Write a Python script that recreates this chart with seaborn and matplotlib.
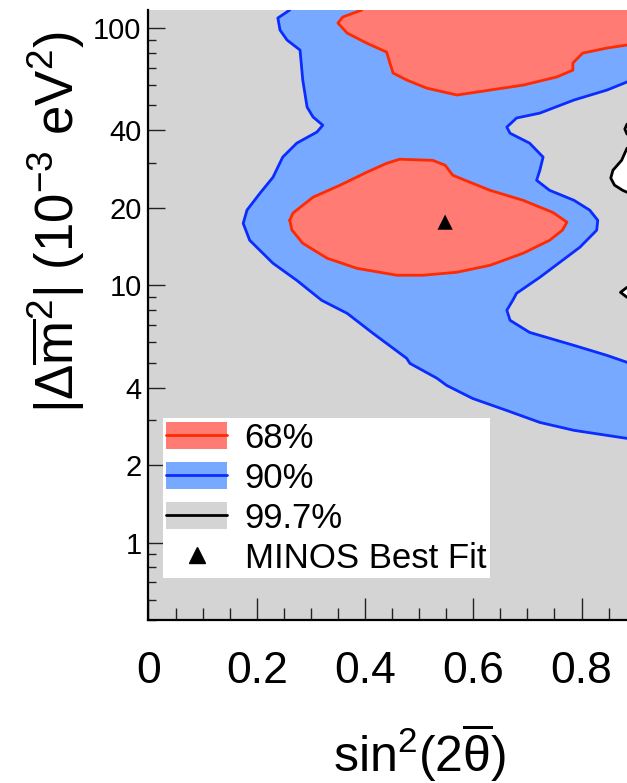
import matplotlib
matplotlib.use("Agg")
import matplotlib.pyplot as plt
import matplotlib.ticker as mticker
from matplotlib.lines import Line2D
from matplotlib.patches import Patch
import seaborn as sns

# 90% C.L. contour, outer edge (from the top of the plot down to the right edge)
blue_outer_s2 = [0.261, 0.239, 0.243, 0.256, 0.280, 0.285, 0.293, 0.304, 0.322, 0.311,
                 0.274, 0.248, 0.230, 0.206, 0.182, 0.175, 0.187, 0.230, 0.274, 0.320,
                 0.367, 0.415, 0.477, 0.483, 0.533, 0.551, 0.599, 0.662, 0.723, 0.786, 0.884]
blue_outer_dm2 = [117.5, 109.4, 98.2, 89.8, 82.1, 62.8, 49.3, 45.1, 41.9, 39.4,
                  35.7, 31.5, 26.3, 22.8, 19.6, 17.4, 14.96, 12.18, 10.45, 8.74,
                  7.78, 6.50, 5.20, 4.97, 4.35, 4.08, 3.63, 3.26, 2.93, 2.73, 2.54]

# 90% C.L. contour, inner edge (from the lower right edge up to the upper right edge)
blue_inner_s2 = [0.884, 0.847, 0.786, 0.704, 0.668, 0.662, 0.673, 0.680, 0.723, 0.797,
                 0.828, 0.830, 0.815, 0.786, 0.741, 0.717, 0.723, 0.729, 0.704, 0.668,
                 0.662, 0.680, 0.723, 0.786, 0.847, 0.884]
blue_inner_dm2 = [5.02, 5.34, 5.84, 6.56, 7.31, 8.00, 8.74, 9.31, 10.74, 14.06,
                  16.37, 17.9, 19.6, 21.4, 23.4, 25.6, 28.0, 31.5, 35.7, 39.0,
                  41.2, 44.7, 46.7, 52.5, 57.4, 61.7]

# 68% C.L. island around the best fit (closed)
red_low_s2 = [0.261, 0.267, 0.304, 0.354, 0.403, 0.440, 0.464, 0.525, 0.548, 0.562,
              0.575, 0.631, 0.692, 0.747, 0.773, 0.765, 0.741, 0.692, 0.631, 0.570,
              0.507, 0.459, 0.385, 0.330, 0.285, 0.265, 0.261]
red_low_dm2 = [17.9, 19.1, 22.0, 24.5, 27.5, 29.8, 30.9, 30.6, 29.3, 26.8,
               26.1, 23.4, 21.4, 19.2, 17.6, 16.4, 14.96, 13.32, 11.96, 11.24,
               10.94, 10.94, 11.64, 12.74, 14.57, 16.4, 17.9]

# 68% C.L. region at high mass splitting (top edge to right edge)
red_up_s2 = [0.394, 0.359, 0.350, 0.367, 0.403, 0.440, 0.446, 0.452, 0.477, 0.514,
             0.570, 0.631, 0.692, 0.754, 0.784, 0.784, 0.802, 0.847, 0.884]
red_up_dm2 = [117.5, 110.4, 104.6, 95.6, 87.4, 80.6, 73.1, 66.8, 62.8, 58.4,
              54.9, 57.4, 60.0, 64.5, 68.6, 73.1, 79.9, 83.6, 85.9]

# 99.7% C.L. contour pieces at the right edge (excluded region inside)
black_a_s2 = [0.884, 0.880, 0.884]
black_a_dm2 = [42.3, 40.5, 38.7]
black_b_s2 = [0.884, 0.874, 0.858, 0.854, 0.861, 0.876, 0.884]
black_b_dm2 = [34.1, 30.6, 28.0, 26.1, 24.5, 23.4, 23.0]
black_c_s2 = [0.884, 0.872, 0.884]
black_c_dm2 = [9.82, 9.39, 8.98]

best_fit_s2 = [0.548]
best_fit_dm2 = [17.6]

legend_labels = ["68%", "90%", "99.7%", "MINOS Best Fit"]
y_tick_values = [1, 2, 4, 10, 20, 40, 100]

red_fill, red_line = "#ff7b74", "#ff2a00"
blue_fill, blue_line = "#76a9ff", "#0a2cff"
gray_fill = "#d4d4d4"

xmin, xmax = 0.0, 0.884
ymin, ymax = 0.5, 117.5
xpad, ypad = 1.0, 300.0   # points outside the frame used to close edge regions

sns.set_style("ticks")
plt.rcParams["font.family"] = ["Liberation Sans", "DejaVu Sans"]
plt.rcParams["mathtext.fontset"] = "custom"
plt.rcParams["mathtext.rm"] = "Liberation Sans"
plt.rcParams["mathtext.it"] = "Liberation Sans"
plt.rcParams["mathtext.bf"] = "Liberation Sans:bold"
plt.rcParams["text.color"] = "black"
plt.rcParams["axes.labelcolor"] = "black"

fig = plt.figure(figsize=(6.27, 7.83), dpi=100)
ax = fig.add_axes([0.2368, 0.2082, 0.7632, 0.779])
ax.set_facecolor(gray_fill)
ax.set_yscale("log")
ax.set_xlim(xmin, xmax)
ax.set_ylim(ymin, ymax)

# excluded (white) pockets inside the 99.7% lines
for xs, ys in [(black_a_s2, black_a_dm2), (black_b_s2, black_b_dm2), (black_c_s2, black_c_dm2)]:
    ax.fill(xs + [xpad, xpad], ys + [ys[-1], ys[0]], color="white", lw=0, zorder=1)

# 90% band
bx = blue_outer_s2 + [xpad, xpad] + blue_inner_s2 + [xpad, xpad, blue_outer_s2[0]]
by = blue_outer_dm2 + [blue_outer_dm2[-1], blue_inner_dm2[0]] + blue_inner_dm2 + \
     [blue_inner_dm2[-1], ypad, ypad]
ax.fill(bx, by, color=blue_fill, lw=0, zorder=2)

# 68% regions
ax.fill(red_low_s2, red_low_dm2, color=red_fill, lw=0, zorder=3)
ax.fill(red_up_s2 + [xpad, xpad, red_up_s2[0]],
        red_up_dm2 + [red_up_dm2[-1], ypad, ypad], color=red_fill, lw=0, zorder=3)

lines = [
    (blue_outer_s2, blue_outer_dm2, blue_line),
    (blue_inner_s2, blue_inner_dm2, blue_line),
    (red_low_s2, red_low_dm2, red_line),
    (red_up_s2, red_up_dm2, red_line),
    (black_a_s2, black_a_dm2, "black"),
    (black_b_s2, black_b_dm2, "black"),
    (black_c_s2, black_c_dm2, "black"),
]
for xs, ys, c in lines:
    sns.lineplot(x=xs, y=ys, sort=False, estimator=None, color=c, lw=2.0, ax=ax, zorder=4)

sns.scatterplot(x=best_fit_s2, y=best_fit_dm2, marker="^", s=120, color="black",
                edgecolor="none", ax=ax, zorder=5)

# axes
for side in ["top", "right"]:
    ax.spines[side].set_visible(False)
for side in ["left", "bottom"]:
    ax.spines[side].set_linewidth(1.6)
    ax.spines[side].set_color("black")
    ax.spines[side].set_zorder(6)

ax.xaxis.set_major_locator(mticker.MultipleLocator(0.2))
ax.xaxis.set_minor_locator(mticker.MultipleLocator(0.05))
ax.xaxis.set_major_formatter(mticker.FuncFormatter(lambda v, p: f"{v:g}"))
ax.yaxis.set_major_locator(mticker.FixedLocator(y_tick_values))
ax.yaxis.set_major_formatter(mticker.FuncFormatter(lambda v, p: f"{v:g}"))
ax.yaxis.set_minor_locator(mticker.LogLocator(base=10, subs=range(1, 10)))
ax.yaxis.set_minor_formatter(mticker.NullFormatter())

ax.tick_params(axis="x", which="major", direction="in", length=16, width=1.0,
               color="#222222", labelcolor="black", labelsize=32, pad=22)
ax.tick_params(axis="x", which="minor", direction="in", length=9, width=1.0, color="#222222")
ax.tick_params(axis="y", which="major", direction="in", length=12, width=1.0,
               color="#222222", labelcolor="black", labelsize=21, pad=5)
ax.tick_params(axis="y", which="minor", direction="in", length=6, width=1.0, color="#222222")

ax.set_xlabel(r"$\mathrm{sin}^{2}(2\overline{\theta})$", fontsize=36)
ax.xaxis.set_label_coords(0.5656, -0.167)
ax.set_ylabel(r"$|\Delta\overline{m}^{2}|\ (10^{-3}\ \mathrm{eV}^{2})$", fontsize=38, va="center")
ax.yaxis.set_label_coords(-0.193, 0.652)

handles = [
    (Patch(facecolor=red_fill, edgecolor="none"), Line2D([], [], color=red_line, lw=2)),
    (Patch(facecolor=blue_fill, edgecolor="none"), Line2D([], [], color=blue_line, lw=2)),
    (Patch(facecolor=gray_fill, edgecolor="none"), Line2D([], [], color="black", lw=2)),
    Line2D([], [], ls="none", marker="^", color="black", markersize=11),
]
leg = ax.legend(handles, legend_labels, loc="lower left", bbox_to_anchor=(0.26, 0.2618),
                bbox_transform=fig.transFigure, fontsize=25, frameon=True, fancybox=False,
                edgecolor="none", facecolor="white", framealpha=1, borderpad=0.1,
                handlelength=1.75, handleheight=0.8, handletextpad=0.5, labelspacing=0.2,
                borderaxespad=0)
leg.set_zorder(7)

fig.savefig("out.png", dpi=100)
